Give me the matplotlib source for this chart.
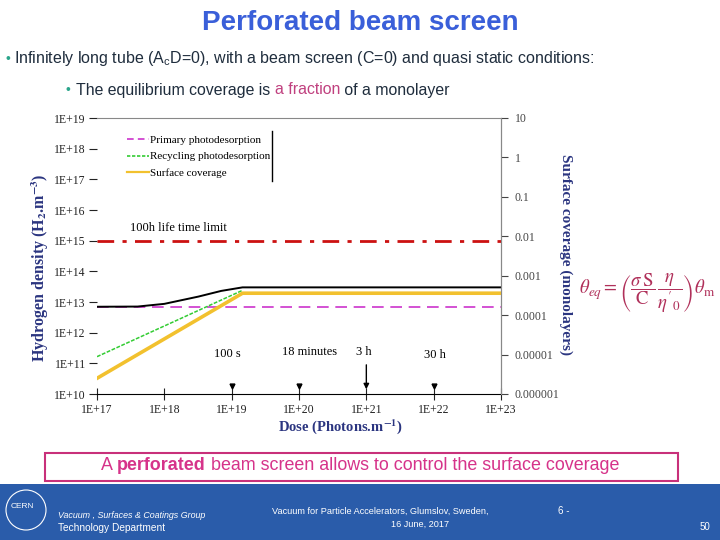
import matplotlib
matplotlib.use('Agg')
from matplotlib import pyplot as plt
from matplotlib.lines import Line2D
from matplotlib.patches import Rectangle, Ellipse

plt.rcParams['font.family'] = ['Liberation Sans', 'DejaVu Sans']
plt.rcParams['mathtext.fontset'] = 'stix'

# data
dose_ticks = [1e17, 1e18, 1e19, 1e20, 1e21, 1e22, 1e23]
dose_labels = ['1E+17', '1E+18', '1E+19', '1E+20', '1E+21', '1E+22', '1E+23']
dens_ticks = [1e10, 1e11, 1e12, 1e13, 1e14, 1e15, 1e16, 1e17, 1e18, 1e19]
dens_labels = ['1E+10', '1E+11', '1E+12', '1E+13', '1E+14', '1E+15',
               '1E+16', '1E+17', '1E+18', '1E+19']
cov_ticks = [1e-6, 1e-5, 1e-4, 1e-3, 1e-2, 1e-1, 1, 10]
cov_labels = ['0.000001', '0.00001', '0.0001', '0.001', '0.01', '0.1', '1', '10']

primary_dose = [1e17, 1e23]
primary = [7e12, 7e12]
recycling_dose = [1e17, 1.45e19]
recycling = [1.65e11, 2.4e13]
total_dose = [1e17, 4e17, 1e18, 3.2e18, 7e18, 1.45e19, 1e23]
total = [7e12, 7.1e12, 8.7e12, 1.5e13, 2.3e13, 3e13, 3e13]
coverage_dose = [1e17, 1.45e19, 1e23]
coverage = [2.5e-6, 3.6e-4, 3.6e-4]
limit_dose = [1e17, 1e23]
limit = [1e15, 1e15]
time_marks = [1e19, 1e20, 1e22]

navy = '#2b3580'
fig = plt.figure(figsize=(7.2, 5.4), dpi=100)


def fx(px):
    return px / 720


def fy(py):
    return 1 - py / 540


ax = fig.add_axes([fx(97), fy(394), 404 / 720, 276 / 540])
ax.set_xscale('log')
ax.set_yscale('log')
ax.set_xlim(1e17, 1e23)
ax.set_ylim(1e10, 1e19)

ax.plot(limit_dose, limit, color='#cc1111', lw=2, ls=(0, (6, 3, 1.5, 3)))
ax.plot(primary_dose, primary, color='#cc33cc', lw=1.2, ls=(0, (7, 4)))
ax.plot(recycling_dose, recycling, color='#33cc33', lw=1.1, ls=(0, (2.5, 1)))
ax.plot(total_dose, total, color='black', lw=1.4)
ax.plot(time_marks, [1.8e10] * 3, 'v', color='black', ms=3.5)
ax.annotate('', xy=(1e21, 1.15e10), xytext=(1e21, 1.1e11),
            arrowprops=dict(arrowstyle='-|>', color='black', lw=1,
                            mutation_scale=8))

ax.set_xticks(dose_ticks)
ax.set_xticklabels(dose_labels)
ax.set_yticks(dens_ticks)
ax.set_yticklabels(dens_labels)
ax.minorticks_off()
ax.tick_params(axis='x', direction='inout', length=8, pad=3, labelsize=8.5,
               labelfontfamily='Liberation Serif', colors='#222222')
ax.tick_params(axis='y', direction='out', length=6, pad=2, labelsize=8.5,
               labelfontfamily='Liberation Serif', colors='#222222')
ax.spines['left'].set_visible(False)
ax.spines['top'].set_color('#888888')
ax.spines['right'].set_color('#888888')

ax2 = ax.twinx()
ax2.set_yscale('log')
ax2.set_ylim(1e-6, 10)
ax2.plot(coverage_dose, coverage, color='#f2c12e', lw=2.6)
ax2.set_yticks(cov_ticks)
ax2.set_yticklabels(cov_labels)
ax2.minorticks_off()
ax2.tick_params(axis='y', direction='out', length=5, pad=5, labelsize=8.5,
                labelfontfamily='Liberation Serif', colors='#444444')
ax2.spines['left'].set_visible(False)
ax2.spines['top'].set_visible(False)
ax2.spines['bottom'].set_visible(False)
ax2.spines['right'].set_color('#888888')

handles = [Line2D([], [], color='#cc33cc', lw=1.2, ls=(0, (4, 2.5))),
           Line2D([], [], color='#33cc33', lw=1.2, ls=(0, (2, 1))),
           Line2D([], [], color='#f2c12e', lw=1.6)]
ax.legend(handles, ['Primary photodesorption', 'Recycling photodesorption',
                    'Surface coverage'],
          loc='upper left', bbox_to_anchor=(0.05, 0.974), frameon=False,
          handlelength=2.0, handletextpad=0.05, labelspacing=0.6,
          prop={'family': 'Liberation Serif', 'size': 8})
fig.add_artist(Line2D([fx(272), fx(272)], [fy(131), fy(181)], color='black', lw=1))

serif = {'family': 'Liberation Serif', 'size': 9}
ax.text(0.082, 0.601, '100h life time limit', transform=ax.transAxes,
        va='center', ha='left', fontdict=serif)
ax.text(0.322, 0.145, '100 s', transform=ax.transAxes, ha='center', va='center', fontdict=serif)
ax.text(0.525, 0.152, '18 minutes', transform=ax.transAxes, ha='center', va='center', fontdict=serif)
ax.text(0.661, 0.152, '3 h', transform=ax.transAxes, ha='center', va='center', fontdict=serif)
ax.text(0.837, 0.141, '30 h', transform=ax.transAxes, ha='center', va='center', fontdict=serif)

fig.text(fx(40), fy(268), r'Hydrogen density (H$_{\mathbf{2}}$.m$^{\mathbf{-3}}$)',
         rotation=90, ha='center', va='center', color=navy, fontsize=11.5,
         fontweight='bold', family='Liberation Serif')
fig.text(fx(340), fy(427), r'Dose (Photons.m$^{\mathbf{-1}}$)', ha='center',
         va='center', color=navy, fontsize=10.5, fontweight='bold',
         family='Liberation Serif')
fig.text(fx(566), fy(255), 'Surface coverage (monolayers)', rotation=-90,
         ha='center', va='center', color=navy, fontsize=11, fontweight='bold',
         family='Liberation Serif')
fig.text(fx(647), fy(293),
         r"$\theta_{eq}=\left(\dfrac{\sigma\,\mathrm{S}}{\mathrm{C}}\,\dfrac{\eta}{\eta'_0}\right)\theta_{\mathrm{m}}$",
         ha='center', va='center', color='#b0305a', fontsize=13.5)

# slide texts
fig.text(0.5, fy(23), 'Perforated beam screen', ha='center', va='center',
         color='#3a5fd9', fontsize=20, fontweight='bold')
dark = '#1f2d3d'
fig.text(fx(5), fy(59), '\u2022', color='#2ba58b', fontsize=10, va='center')
fig.text(fx(14), fy(59), r'Infinitely long tube (A$\mathregular{_c}$D=0), with a beam screen (C=0) and quasi static conditions:',
         color=dark, fontsize=11.5, va='center')
fig.text(fx(66), fy(90), '\u2022', color='#2ba58b', fontsize=10, va='center')

renderer = fig.canvas.get_renderer()


def chain(x0, y, parts, **kw):
    x = x0
    for s, color, weight in parts:
        t = fig.text(x, y, s, color=color, fontweight=weight, va='center', **kw)
        bb = t.get_window_extent(renderer)
        x += bb.width / 720
    return x


chain(fx(76), fy(90), [('The equilibrium coverage is ', dark, 'normal'),
                       ('a fraction', '#c0407f', 'normal'),
                       (' of a monolayer', dark, 'normal')], fontsize=11.4)

fig.add_artist(Rectangle((fx(45), fy(481)), (678 - 45) / 720, 28 / 540,
                         fill=False, edgecolor='#c8307a', lw=1.5))
pink = '#d6338a'
chain(fx(101), fy(466), [('A ', pink, 'normal'), ('perforated', pink, 'bold'),
                         (' beam screen allows to control the surface coverage', pink, 'normal')],
      fontsize=12.9)

# footer
fig.add_artist(Rectangle((0, 0), 1, fy(484), color='#2a5caa', lw=0))
fig.add_artist(Ellipse((fx(26), fy(510)), 40 / 720, 40 / 540, fill=False,
                       edgecolor='white', lw=0.8))
fig.text(fx(22), fy(506), 'CERN', color='white', fontsize=6, ha='center', va='center')
fig.text(fx(58), fy(515), 'Vacuum , Surfaces & Coatings Group', color='white',
         fontsize=6.4, style='italic', va='center')
fig.text(fx(58), fy(528), 'Technology Department', color='white', fontsize=7.3, va='center')
fig.text(fx(380), fy(511), 'Vacuum for Particle Accelerators, Glumslov, Sweden,',
         color='white', fontsize=6.6, ha='center', va='center')
fig.text(fx(420), fy(524), '16 June, 2017', color='white', fontsize=6.6,
         ha='center', va='center')
fig.text(fx(558), fy(511), '6 -', color='white', fontsize=7, va='center')
fig.text(fx(705), fy(527), '50', color='white', fontsize=7, ha='center', va='center')

fig.savefig('out.png', dpi=100)
